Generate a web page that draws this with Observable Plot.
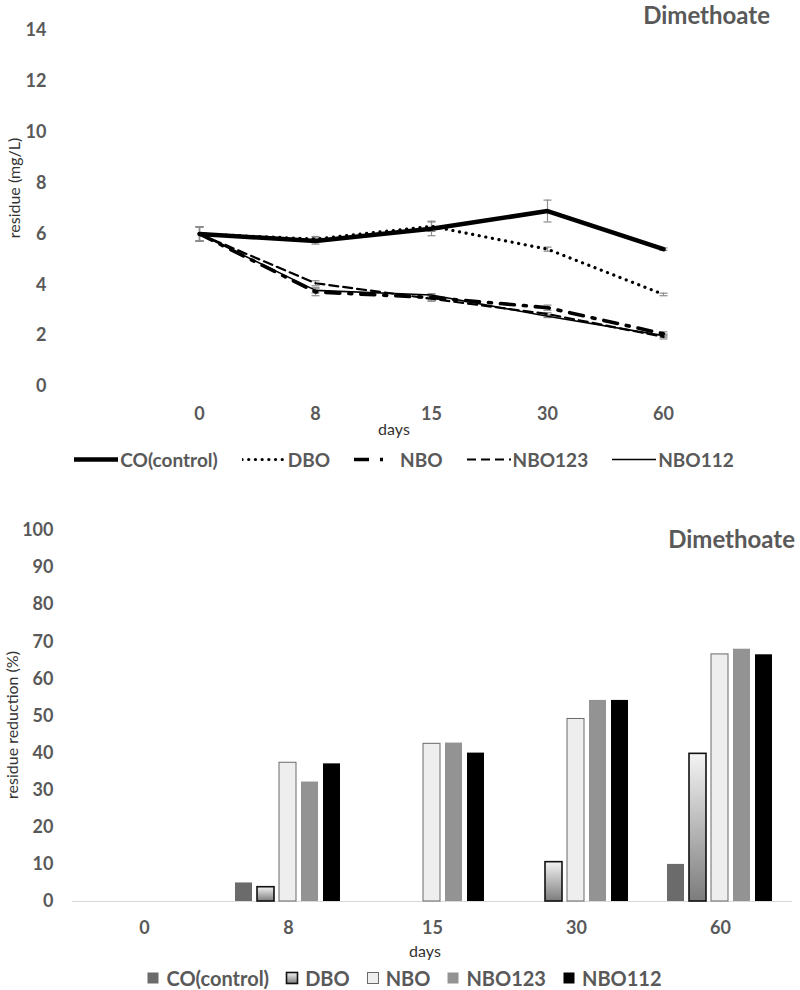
<!DOCTYPE html>
<html>
<head>
<meta charset="utf-8">
<script src="https://cdn.jsdelivr.net/npm/d3@7"></script>
<script src="https://cdn.jsdelivr.net/npm/@observablehq/plot@0.6"></script>
<style>
  body { margin: 0; background: #fff; }
  #wrap { position: relative; width: 800px; height: 990px; font-family: Lato, "Open Sans", sans-serif; color: #595959; overflow: hidden; }
  #wrap > svg { position: absolute; left: 0; }
  .title { position: absolute; font-weight: bold; font-size: 24px; line-height: normal; color: #595959; white-space: nowrap; }
  .ylab { position: absolute; font-size: 16px; color: #333; white-space: nowrap; transform: translate(-50%, -50%) rotate(-90deg); }
  .xlab { position: absolute; font-size: 16px; color: #333; transform: translate(-50%, -50%); white-space: nowrap; }
  .legend { position: absolute; left: 0; width: 808px; display: flex; justify-content: center; align-items: center; transform: translateY(-50%); font-weight: bold; color: #595959; white-space: nowrap; }
  .legend .item { display: flex; align-items: center; }
  g[aria-label="y-axis tick label"], g[aria-label="x-axis tick label"], g[aria-label="fx-axis tick label"] { font-weight: bold !important; fill: #595959 !important; font-size: 18px !important; }
</style>
</head>
<body>
<div id="wrap"></div>
<script>
// ---------- data ----------
const days = ["0", "8", "15", "30", "60"];
const seriesNames = ["CO(control)", "DBO", "NBO", "NBO123", "NBO112"];

// residue (mg/L)
const residueCO     = [6.0, 5.72, 6.2, 6.9, 5.4];
const residueDBO    = [6.0, 5.8, 6.3, 5.4, 3.62];
const residueNBO    = [6.0, 3.72, 3.5, 3.1, 2.07];
const residueNBO123 = [6.0, 4.06, 3.45, 2.85, 1.95];
const residueNBO112 = [6.0, 3.78, 3.6, 2.76, 2.0];

// error bars (mg/L)
const errCO     = [0.28, 0.12, 0.27, 0.43, 0.05];
const errDBO    = [0.28, 0.1, 0.2, 0.08, 0.05];
const errNBO    = [0.28, 0.15, 0.1, 0.1, 0.08];
const errNBO123 = [0.28, 0.1, 0.1, 0.05, 0.08];
const errNBO112 = [0.28, 0.1, 0.05, 0.05, 0.06];

// residue reduction (%)
const reductionCO     = [0, 5.0, 0, 0, 10.0];
const reductionDBO    = [0, 3.85, 0, 10.6, 39.8];
const reductionNBO    = [0, 37.4, 42.5, 49.2, 66.6];
const reductionNBO123 = [0, 32.2, 42.7, 54.2, 68.0];
const reductionNBO112 = [0, 37.1, 40.0, 54.2, 66.5];

const residueTicks = [0, 2, 4, 6, 8, 10, 12, 14];
const reductionTicks = [0, 10, 20, 30, 40, 50, 60, 70, 80, 90, 100];
const chartTitle = "Dimethoate";
const residueLabel = "residue (mg/L)";
const reductionLabel = "residue reduction (%)";
const xLabel = "days";

// ---------- tables ----------
const residueValues = [residueCO, residueDBO, residueNBO, residueNBO123, residueNBO112];
const residueErrors = [errCO, errDBO, errNBO, errNBO123, errNBO112];
const reductionValues = [reductionCO, reductionDBO, reductionNBO, reductionNBO123, reductionNBO112];

const residueData = seriesNames.flatMap((s, i) =>
  days.map((d, j) => ({series: s, day: d, value: residueValues[i][j], err: residueErrors[i][j]})));
const reductionData = seriesNames.flatMap((s, i) =>
  days.map((d, j) => ({series: s, day: d, value: reductionValues[i][j]})));

// ---------- styles ----------
const lineStyle = {
  "CO(control)": {strokeWidth: 4.5},
  "DBO": {strokeWidth: 3.2, strokeDasharray: "0.1 6.6", strokeLinecap: "round"},
  "NBO": {strokeWidth: 3.6, strokeDasharray: "14 9 3 9"},
  "NBO123": {strokeWidth: 2.2, strokeDasharray: "9 5"},
  "NBO112": {strokeWidth: 1.6}
};
const legendDash = {"NBO": "15 11 3 15"};
const barStyle = {
  "CO(control)": {fill: "#6b6b6b"},
  "DBO": {fill: "url(#dboGrad)", stroke: "#111", strokeWidth: 1.6},
  "NBO": {fill: "#eeeeee", stroke: "#6a6a6a", strokeWidth: 1},
  "NBO123": {fill: "#939393"},
  "NBO112": {fill: "#000000"}
};
const errColor = "#8c8c8c";
const capSymbol = {
  draw(context, size) {
    const r = Math.sqrt(size / Math.PI);
    context.moveTo(-r, 0);
    context.lineTo(r, 0);
  }
};

const wrap = document.getElementById("wrap");

// ---------- top: line chart ----------
const lineOrder = ["NBO112", "NBO123", "NBO", "DBO", "CO(control)"];
const topChart = Plot.plot({
  width: 800,
  height: 440,
  marginTop: 30,
  marginBottom: 54,
  marginLeft: 60,
  marginRight: 20,
  style: {fontFamily: "Lato, 'Open Sans', sans-serif", overflow: "visible"},
  x: {type: "point", domain: days, range: [140, 722], label: null},
  y: {domain: [0, 14], label: null},
  marks: [
    Plot.axisY({ticks: residueTicks, tickSize: 0, tickPadding: 14, label: null, fontSize: 18}),
    Plot.axisX({tickSize: 0, tickPadding: 21, label: null, fontSize: 18}),
    Plot.ruleX(residueData, {x: "day", y1: d => d.value - d.err, y2: d => d.value + d.err, stroke: errColor, strokeWidth: 1.2}),
    Plot.dot(residueData, {x: "day", y: d => d.value + d.err, symbol: capSymbol, r: 4, stroke: errColor, fill: "none", strokeWidth: 1.2}),
    Plot.dot(residueData, {x: "day", y: d => d.value - d.err, symbol: capSymbol, r: 4, stroke: errColor, fill: "none", strokeWidth: 1.2}),
    ...lineOrder.map(s => Plot.line(residueData.filter(d => d.series === s), {
      x: "day", y: "value", stroke: "#000", ...lineStyle[s]
    }))
  ]
});
topChart.style.top = "0px";
wrap.appendChild(topChart);

// ---------- bottom: grouped bar chart ----------
const bottomChart = Plot.plot({
  width: 800,
  height: 460,
  marginTop: 50,
  marginBottom: 39,
  marginLeft: 72,
  marginRight: 8,
  style: {fontFamily: "Lato, 'Open Sans', sans-serif", overflow: "visible"},
  fx: {domain: days, padding: 0, label: null},
  x: {domain: seriesNames, axis: null, paddingInner: 0.227, paddingOuter: 0.886},
  y: {domain: [0, 100], label: null},
  marks: [
    Plot.axisY({ticks: reductionTicks, tickSize: 0, tickPadding: 19, label: null, fontSize: 18}),
    Plot.axisFx({anchor: "bottom", tickSize: 0, tickPadding: 20, label: null, fontSize: 18}),
    Plot.ruleY(days, {fx: d => d, y: () => 0, stroke: "#d9d9d9", strokeWidth: 1.2}),
    ...seriesNames.map(s => Plot.barY(reductionData.filter(d => d.series === s && d.value > 0), {
      fx: "day", x: "series", y: "value", ...barStyle[s]
    }))
  ]
});
bottomChart.style.top = "480px";
d3.select(bottomChart).insert("defs", ":first-child").html(
  `<linearGradient id="dboGrad" x1="0" y1="0" x2="0" y2="1">
     <stop offset="0" stop-color="#f4f4f4"/>
     <stop offset="1" stop-color="#7c7c7c"/>
   </linearGradient>`);
wrap.appendChild(bottomChart);

// ---------- texts ----------
function addDiv(cls, text, css) {
  const el = document.createElement("div");
  el.className = cls;
  el.textContent = text;
  Object.assign(el.style, css);
  wrap.appendChild(el);
  return el;
}
addDiv("title", chartTitle, {right: "30px", top: "0px"});
addDiv("title", chartTitle, {right: "5px", top: "524px"});
addDiv("ylab", residueLabel, {left: "13px", top: "188px"});
addDiv("ylab", reductionLabel, {left: "11px", top: "725px"});
addDiv("xlab", xLabel, {left: "394px", top: "428px"});
addDiv("xlab", xLabel, {left: "425px", top: "950px"});

// ---------- legends ----------
const legTop = document.createElement("div");
legTop.className = "legend";
legTop.style.top = "459px";
legTop.style.gap = "24px";
legTop.style.fontSize = "19px";
seriesNames.forEach(s => {
  const item = document.createElement("div");
  item.className = "item";
  const sv = d3.create("svg").attr("width", 44).attr("height", 10).style("margin-right", "2px");
  const st = lineStyle[s];
  sv.append("line").attr("x1", 0).attr("x2", 44).attr("y1", 5).attr("y2", 5)
    .attr("stroke", "#000").attr("stroke-width", st.strokeWidth)
    .attr("stroke-dasharray", legendDash[s] || st.strokeDasharray || null)
    .attr("stroke-linecap", st.strokeLinecap || "butt");
  item.appendChild(sv.node());
  const t = document.createElement("span");
  t.textContent = s;
  item.appendChild(t);
  legTop.appendChild(item);
});
wrap.appendChild(legTop);

const legBot = document.createElement("div");
legBot.className = "legend";
legBot.style.top = "978px";
legBot.style.gap = "16px";
legBot.style.fontSize = "20px";
seriesNames.forEach(s => {
  const item = document.createElement("div");
  item.className = "item";
  const sv = d3.create("svg").attr("width", 14).attr("height", 14).style("margin-right", "6px");
  sv.append("defs").html(`<linearGradient id="dboGradL" x1="0" y1="0" x2="0" y2="1"><stop offset="0" stop-color="#f4f4f4"/><stop offset="1" stop-color="#7c7c7c"/></linearGradient>`);
  const bs = barStyle[s];
  sv.append("rect").attr("x", 1.5).attr("y", 1.5).attr("width", 11).attr("height", 11)
    .attr("fill", bs.fill === "url(#dboGrad)" ? "url(#dboGradL)" : bs.fill)
    .attr("stroke", bs.stroke || "none").attr("stroke-width", bs.strokeWidth || 0);
  item.appendChild(sv.node());
  const t = document.createElement("span");
  t.textContent = s;
  item.appendChild(t);
  legBot.appendChild(item);
});
wrap.appendChild(legBot);
</script>
</body>
</html>
